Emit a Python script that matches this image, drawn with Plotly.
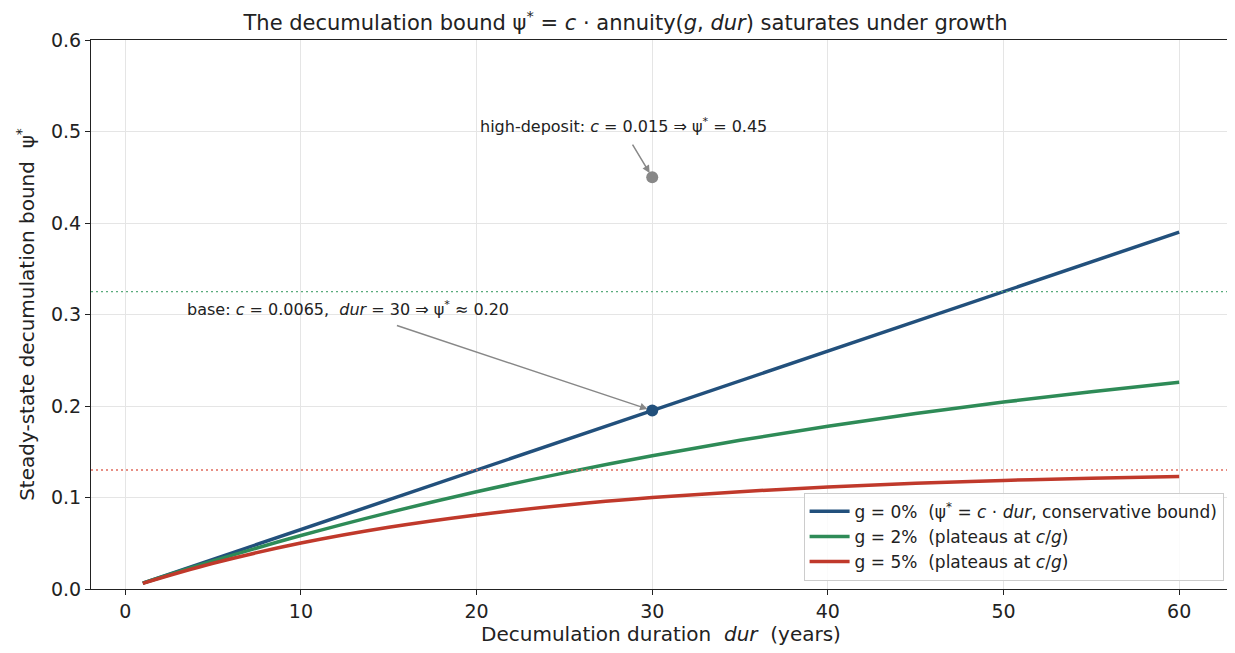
import plotly.graph_objects as go

# ---- data ----
dur_g0 = [1, 60]
psi_g0 = [0.0065, 0.39]

dur_pts = [1, 5, 10, 15, 20, 25, 30, 35, 40, 45, 50, 55, 60]
psi_g2 = [0.0064, 0.0306, 0.0584, 0.0835, 0.1063, 0.1269, 0.1456, 0.1625, 0.1778, 0.1917, 0.2043, 0.2156, 0.2259]
psi_g5 = [0.0062, 0.0281, 0.0502, 0.0675, 0.0810, 0.0916, 0.0999, 0.1064, 0.1115, 0.1155, 0.1187, 0.1211, 0.1230]

plateau_g2 = 0.325
plateau_g5 = 0.13

base_point = (30, 0.195)
high_point = (30, 0.45)

x_ticks = [0, 10, 20, 30, 40, 50, 60]
y_ticks = [0.0, 0.1, 0.2, 0.3, 0.4, 0.5, 0.6]

BLUE = "#22507c"
GREEN = "#2e8b57"
RED = "#c0392b"
GRAY = "#888888"
FONT = "DejaVu Sans"

fig = go.Figure()

fig.add_trace(go.Scatter(x=dur_g0, y=psi_g0, mode="lines",
                         line=dict(color=BLUE, width=3.5),
                         name="g = 0%  (ψ<sup>*</sup> = <i>c</i> · <i>dur</i>, conservative bound)"))
fig.add_trace(go.Scatter(x=dur_pts, y=psi_g2, mode="lines", line_shape="spline",
                         line=dict(color=GREEN, width=3.5),
                         name="g = 2%  (plateaus at <i>c</i>/<i>g</i>)"))
fig.add_trace(go.Scatter(x=dur_pts, y=psi_g5, mode="lines", line_shape="spline",
                         line=dict(color=RED, width=3.5),
                         name="g = 5%  (plateaus at <i>c</i>/<i>g</i>)"))

fig.add_trace(go.Scatter(x=[base_point[0]], y=[base_point[1]], mode="markers",
                         marker=dict(color=BLUE, size=12), showlegend=False))
fig.add_trace(go.Scatter(x=[high_point[0]], y=[high_point[1]], mode="markers",
                         marker=dict(color=GRAY, size=12), showlegend=False))

fig.add_hline(y=plateau_g2, line=dict(color="#5aab7c", width=1.4, dash="2px,3px"))
fig.add_hline(y=plateau_g5, line=dict(color="#df6a5c", width=1.4, dash="2px,3px"))

# annotations: text + separate arrows
fig.add_annotation(x=12.66, y=0.307, xref="x", yref="y", showarrow=False,
                   text="base: <i>c</i> = 0.0065,  <i>dur</i> = 30 ⇒ ψ<sup>*</sup> ≈ 0.20",
                   font=dict(family=FONT, size=16, color="#222222"))
fig.add_annotation(x=base_point[0], y=base_point[1], ax=15.38, ay=0.2885,
                   axref="x", ayref="y", xref="x", yref="y", text="",
                   showarrow=True, arrowhead=2, arrowsize=1, arrowwidth=1.5,
                   arrowcolor=GRAY, standoff=5)
fig.add_annotation(x=28.38, y=0.507, xref="x", yref="y", showarrow=False,
                   text="high-deposit: <i>c</i> = 0.015 ⇒ ψ<sup>*</sup> = 0.45",
                   font=dict(family=FONT, size=16, color="#222222"))
fig.add_annotation(x=high_point[0], y=high_point[1], ax=28.83, ay=0.4874,
                   axref="x", ayref="y", xref="x", yref="y", text="",
                   showarrow=True, arrowhead=2, arrowsize=1, arrowwidth=1.5,
                   arrowcolor=GRAY, standoff=5)

fig.update_layout(
    width=1235, height=653,
    paper_bgcolor="white", plot_bgcolor="white",
    font=dict(family=FONT, size=19, color="#222222"),
    margin=dict(l=83, r=12, t=32, b=72, autoexpand=False),
    title=dict(text="The decumulation bound ψ<sup>*</sup> = <i>c</i> · annuity(<i>g</i>, <i>dur</i>) saturates under growth",
               x=0.5, xanchor="center", y=0.978, yanchor="middle",
               font=dict(family=FONT, size=21, color="#222222")),
    legend=dict(x=0.9935, y=0.015, xanchor="right", yanchor="bottom",
                bgcolor="rgba(255,255,255,0.85)", bordercolor="#cccccc", borderwidth=1,
                font=dict(family=FONT, size=17, color="#222222"),
                itemwidth=40, tracegroupgap=4),
    showlegend=True,
)

fig.update_xaxes(range=[-1.95, 62.95], tickvals=x_ticks, ticks="outside", ticklen=5,
                 tickcolor="#222222", showline=True, linecolor="#222222", linewidth=1.2,
                 mirror=True, showgrid=True, gridcolor="#e5e5e5", zeroline=False,
                 tickfont=dict(size=19), automargin=False,
                 title=dict(text="Decumulation duration  <i>dur</i>  (years)",
                            font=dict(size=20), standoff=6))
fig.update_yaxes(range=[0, 0.6], tickvals=y_ticks, tickformat=".1f", ticks="outside",
                 ticklen=5, tickcolor="#222222", showline=True, linecolor="#222222",
                 linewidth=1.2, mirror=True, showgrid=True, gridcolor="#e5e5e5",
                 zeroline=False, tickfont=dict(size=19), automargin=False,
                 title=dict(text="Steady-state decumulation bound  ψ<sup>*</sup>",
                            font=dict(size=20), standoff=10))

fig.write_html("out.html")
